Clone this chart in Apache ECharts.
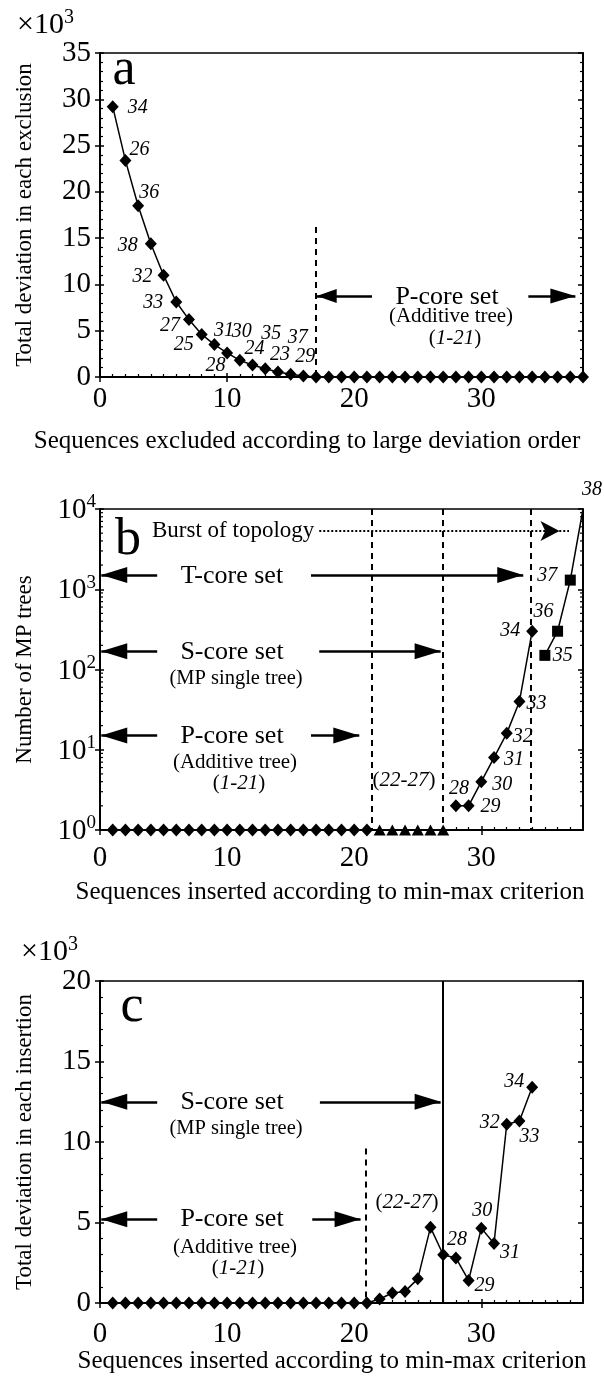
<!DOCTYPE html>
<html><head><meta charset="utf-8">
<script src="https://cdn.jsdelivr.net/npm/echarts@6/dist/echarts.min.js"></script>
<style>html,body{margin:0;padding:0;background:#fff}#c{width:604px;height:1376px}</style>
</head><body><div id="c"></div>
<script>
// ---------- DATA ----------
// Panel a: sequences excluded (1..38) vs total deviation (x10^3)
const aSeq = [1,2,3,4,5,6,7,8,9,10,11,12,13,14,15,16,17,18,19,20,21,22,23,24,25,26,27,28,29,30,31,32,33,34,35,36,37,38];
const aDev = [29.2,23.4,18.5,14.4,11.0,8.1,6.2,4.6,3.5,2.6,1.8,1.3,0.9,0.55,0.3,0.1,0,0,0,0,0,0,0,0,0,0,0,0,0,0,0,0,0,0,0,0,0,0];
const aNames = ['34','26','36','38','32','33','27','25','28','31','30','24','35','23','37','29'];

// Panel b: number of MP trees (log)
const bCoreSeq = [1,2,3,4,5,6,7,8,9,10,11,12,13,14,15,16,17,18,19,20,21];
const bCoreVal = [1,1,1,1,1,1,1,1,1,1,1,1,1,1,1,1,1,1,1,1,1];
const bTriSeq = [22,23,24,25,26,27];
const bTriVal = [1,1,1,1,1,1];
const bDiaSeq = [28,29,30,31,32,33,34];
const bDiaVal = [2,2,4,8,16,40,300];
const bDiaNames = ['28','29','30','31','32','33','34'];
const bSqSeq = [35,36,37,38];
const bSqVal = [150,300,1300,10000];
const bSqNames = ['35','36','37','38'];
const bTickLabels = ['10','10','10','10','10'];

// Panel c: total deviation in each insertion (x10^3)
const cSeq = [1,2,3,4,5,6,7,8,9,10,11,12,13,14,15,16,17,18,19,20,21,22,23,24,25,26,27,28,29,30,31,32,33,34];
const cDev = [0,0,0,0,0,0,0,0,0,0,0,0,0,0,0,0,0,0,0,0,0,0.25,0.62,0.72,1.5,4.7,3.0,2.8,1.4,4.65,3.7,11.1,11.3,13.4];
const cNames = {28:'28',29:'29',30:'30',31:'31',32:'32',33:'33',34:'34'};

// ---------- STYLE / LAYOUT ----------
const FF = '"Liberation Serif","Times New Roman",serif';
const BLACK = '#000';
const grids = [
  {left:100, right:21, top:53, height:324},
  {left:100, right:21, top:509, height:321},
  {left:100, right:21, top:981, height:322}
];
const xLabelMargin = [8, 14, 17];
const aOff = [[25,1],[14,-11],[11,-13],[-23,2],[-21,2],[-23,1],[-19,6],[-18,10],[1,21],[-3,-22],[2,-29],[2,-16],[6,-35],[2,-17],[7,-36],[2,-19]];
const bDiaOff = [[3,-17],[22,1],[21,3],[20,2],[16,3],[17,2],[-22,0]];
const bSqOff = [[18,0],[-14,-19],[-23,-4],[9,-19]];
const cOff = {28:[1,-18],29:[16,5],30:[1,-17],31:[16,9],32:[-17,-2],33:[10,16],34:[-18,-6]};

const numLabel = (txt, off) => ({show:true, formatter:txt, position:'inside', offset:off,
  fontFamily:FF, fontSize:20, fontStyle:'italic', color:BLACK});

function xAxes(g){
  const base = {gridIndex:g, type:'value', min:0, max:38, interval:10, splitLine:{show:false}};
  return [
    Object.assign({}, base, {position:'bottom', axisLine:{onZero:false, lineStyle:{color:BLACK,width:2}},
      axisTick:{show:true, inside:false, length:5, lineStyle:{color:BLACK,width:1.5}},
      axisLabel:{fontFamily:FF, fontSize:29, color:BLACK, margin:xLabelMargin[g], showMaxLabel:false}}),
    Object.assign({}, base, {position:'bottom', offset:0, axisLine:{show:false, onZero:false},
      axisTick:{show:true, inside:true, length:4, lineStyle:{color:BLACK,width:1.5}},
      minorTick:{show:true, splitNumber:10, length:3, lineStyle:{color:BLACK,width:1.2}},
      axisLabel:{show:false}}),
    Object.assign({}, base, {position:'top', axisLine:{onZero:false, lineStyle:{color:BLACK,width:1.5}},
      axisTick:{show:false}, axisLabel:{show:false}})
  ];
}
function yAxesLinear(g, max, name, nameGap){
  const base = {gridIndex:g, type:'value', min:0, max:max, interval:5, splitLine:{show:false}};
  return [
    Object.assign({}, base, {position:'left', axisLine:{onZero:false, lineStyle:{color:BLACK,width:2}},
      axisTick:{show:true, inside:false, length:5, lineStyle:{color:BLACK,width:1.5}},
      axisLabel:{fontFamily:FF, fontSize:29, color:BLACK, margin:9},
      name:name, nameLocation:'middle', nameGap:nameGap, nameTextStyle:{fontFamily:FF, fontSize:23, color:BLACK}}),
    Object.assign({}, base, {position:'left', offset:0, axisLine:{show:false, onZero:false},
      axisTick:{show:true, inside:true, length:4, lineStyle:{color:BLACK,width:1.5}},
      minorTick:{show:true, splitNumber:5, length:3, lineStyle:{color:BLACK,width:1.2}},
      axisLabel:{show:false}}),
    Object.assign({}, base, {position:'right', offset:0, axisLine:{onZero:false, lineStyle:{color:BLACK,width:2}},
      axisTick:{show:true, inside:true, length:5, lineStyle:{color:BLACK,width:1.5}},
      minorTick:{show:true, splitNumber:5, length:3, lineStyle:{color:BLACK,width:1.2}},
      axisLabel:{show:false}})
  ];
}
function yAxesLog(g, name, nameGap){
  const base = {gridIndex:g, type:'log', logBase:10, min:1, max:10000, splitLine:{show:false}};
  return [
    Object.assign({}, base, {position:'left', axisLine:{onZero:false, lineStyle:{color:BLACK,width:2}},
      axisTick:{show:true, inside:false, length:5, lineStyle:{color:BLACK,width:1.5}},
      axisLabel:{margin:4, color:BLACK,
        formatter: v => { const e = Math.round(Math.log10(v)); return '{b|' + bTickLabels[e] + '}{s|' + e + '}'; },
        rich:{b:{fontFamily:FF, fontSize:29, color:BLACK, verticalAlign:'bottom', lineHeight:32},
              s:{fontFamily:FF, fontSize:19, color:BLACK, verticalAlign:'top', lineHeight:19}}},
      name:name, nameLocation:'middle', nameGap:nameGap, nameTextStyle:{fontFamily:FF, fontSize:23, color:BLACK}}),
    Object.assign({}, base, {position:'left', offset:0, axisLine:{show:false, onZero:false},
      axisTick:{show:true, inside:true, length:4, lineStyle:{color:BLACK,width:1.5}},
      axisLabel:{show:false}}),
    Object.assign({}, base, {position:'right', offset:0, axisLine:{onZero:false, lineStyle:{color:BLACK,width:2}},
      axisTick:{show:true, inside:true, length:5, lineStyle:{color:BLACK,width:1.5}},
      axisLabel:{show:false}})
  ];
}

const lineBase = {type:'line', symbol:'diamond', symbolSize:[12,13], itemStyle:{color:BLACK},
  lineStyle:{color:BLACK, width:1.5}, silent:true, animation:false, z:5};

function arrowTo(x1, x2, y, w, h, sym, style){
  const ls = Object.assign({color:BLACK, width:2.5, type:'solid'}, style||{});
  return [{coord:[x1,y], symbol:'none', lineStyle:ls},
          {coord:[x2,y], symbol:sym||'triangle', symbolSize:[w,h], symbolOffset:[0,h/2], lineStyle:ls}];
}
function vline(x, y1, y2, dashed){
  const ls = {color:BLACK, width:2, type: dashed ? [6,5] : 'solid'};
  return [{coord:[x,y1], symbol:'none', lineStyle:ls},{coord:[x,y2], symbol:'none', lineStyle:ls}];
}
const mlBase = {silent:true, symbol:['none','none'], label:{show:false}, emphasis:{disabled:true}, animation:false};

// log minor ticks (2..9 within each decade)
const logMinor = [];
[1,10,100,1000].forEach(d => [2,3,4,5,6,7,8,9].forEach(m => logMinor.push(m*d)));

const series = [];
// Panel a
series.push(Object.assign({}, lineBase, {xAxisIndex:0, yAxisIndex:0,
  data: aSeq.map((x,i) => ({value:[x, aDev[i]], label: i < aNames.length ? numLabel(aNames[i], aOff[i]) : {show:false}})),
  markLine: Object.assign({}, mlBase, {data:[
    vline(17, 16.2, 0, true),
    arrowTo(21.4, 17.05, 8.75, 14, 20),
    arrowTo(33.7, 37.4, 8.75, 15, 25)
  ]})
}));
// Panel b
series.push(Object.assign({}, lineBase, {xAxisIndex:3, yAxisIndex:3,
  data: bCoreSeq.map((x,i) => [x, bCoreVal[i]]),
  markLine: Object.assign({}, mlBase, {data:[
    vline(21.4, 10000, 1, true),
    vline(27, 10000, 1, true),
    vline(33.85, 10000, 1, true),
    arrowTo(17.25, 36.9, 5310, 15, 19, 'arrow', {type:'dotted', width:2}),
    arrowTo(4.5, 0.1, 1510, 16, 26),
    arrowTo(16.6, 33.3, 1510, 16, 26),
    arrowTo(4.5, 0.1, 169, 16, 26),
    arrowTo(17.25, 26.8, 169, 16, 26),
    arrowTo(4.5, 0.1, 15, 16, 26),
    arrowTo(16.6, 20.4, 15, 16, 26)
  ]})
}));
series.push(Object.assign({}, lineBase, {xAxisIndex:3, yAxisIndex:3, symbol:'triangle', symbolSize:[12,11],
  data: bTriSeq.map((x,i) => [x, bTriVal[i]])}));
series.push(Object.assign({}, lineBase, {xAxisIndex:3, yAxisIndex:3,
  data: bDiaSeq.map((x,i) => ({value:[x, bDiaVal[i]], label:numLabel(bDiaNames[i], bDiaOff[i])}))}));
series.push(Object.assign({}, lineBase, {xAxisIndex:3, yAxisIndex:3, symbol:'rect', symbolSize:11, clip:false,
  data: bSqSeq.map((x,i) => ({value:[x, bSqVal[i]], symbolSize: i === bSqSeq.length-1 ? 0 : 11,
    label:numLabel(bSqNames[i], bSqOff[i])}))}));
series.push({type:'custom', xAxisIndex:3, yAxisIndex:3, silent:true, clip:false, animation:false,
  data: logMinor.map(v => [0, v]),
  renderItem: (params, api) => {
    const v = api.value(1);
    const pl = api.coord([0, v]); const pr = api.coord([38, v]);
    return {type:'group', children:[
      {type:'line', shape:{x1:pl[0], y1:pl[1], x2:pl[0]+3, y2:pl[1]}, style:{stroke:BLACK, lineWidth:1.2}},
      {type:'line', shape:{x1:pr[0]-3, y1:pr[1], x2:pr[0], y2:pr[1]}, style:{stroke:BLACK, lineWidth:1.2}}
    ]};
  }
});
// Panel c
series.push(Object.assign({}, lineBase, {xAxisIndex:6, yAxisIndex:6,
  data: cSeq.map((x,i) => ({value:[x, cDev[i]], label: cNames[x] ? numLabel(cNames[x], cOff[x]) : {show:false}})),
  markLine: Object.assign({}, mlBase, {data:[
    vline(27, 20, 0, false),
    vline(20.9, 9.6, 0, true),
    arrowTo(4.5, 0.1, 12.5, 16, 26),
    arrowTo(17.3, 26.8, 12.5, 16, 26),
    arrowTo(4.5, 0.1, 5.2, 16, 26),
    arrowTo(16.7, 20.5, 5.2, 16, 26)
  ]})
}));

// ---------- TEXT ANNOTATIONS ----------
function txt(text, x, y, size, opts){
  return {type:'text', silent:true, z:50, style:Object.assign({text:text, x:x, y:y, fill:BLACK,
    font: (opts && opts.italic ? 'italic ' : '') + size + 'px ' + FF,
    align:'center', verticalAlign:'middle'}, opts && opts.style || {})};
}
const richI = {i:{fontFamily:FF, fontSize:21, fontStyle:'italic', fill:BLACK}, n:{fontFamily:FF, fontSize:21, fill:BLACK}};
function richTxt(text, x, y, rich, align){
  return {type:'text', silent:true, z:50, style:{text:text, x:x, y:y, rich:rich, align:align||'center', verticalAlign:'middle', fill:BLACK}};
}
const richExp = {n:{fontFamily:FF, fontSize:30, fill:BLACK, verticalAlign:'bottom', lineHeight:33},
                 s:{fontFamily:FF, fontSize:20, fill:BLACK, verticalAlign:'top', lineHeight:20}};
const graphic = [
  // panel a
  richTxt('{n|×10}{s|3}', 17, 24, richExp, 'left'),
  txt('a', 124, 70, 52),
  txt('P-core set', 447, 297, 26),
  txt('(Additive tree)', 451, 316, 21),
  richTxt('{n|(}{i|1-21}{n|)}', 455, 338, richI),
  txt('Sequences excluded according to large deviation order', 307, 441, 25),
  // panel b
  txt('b', 128, 540, 52),
  txt('Burst of topology', 152, 531, 23, {style:{align:'left'}}),
  txt('T-core set', 232, 576, 26),
  txt('S-core set', 232, 652, 26),
  txt('(MP single tree)', 236, 679, 20.5),
  txt('P-core set', 232, 736, 26),
  txt('(Additive tree)', 235, 762, 21),
  richTxt('{n|(}{i|1-21}{n|)}', 239, 783, richI),
  richTxt('{n|(}{i|22-27}{n|)}', 404, 780, richI),
  txt('Sequences inserted according to min-max criterion', 330, 892, 25),
  // panel c
  richTxt('{n|×10}{s|3}', 21, 951, richExp, 'left'),
  txt('c', 132, 1007, 52),
  txt('S-core set', 232, 1102, 26),
  txt('(MP single tree)', 236, 1129, 20.5),
  txt('P-core set', 232, 1219, 26),
  txt('(Additive tree)', 235, 1247, 21),
  richTxt('{n|(}{i|1-21}{n|)}', 238, 1268, richI),
  richTxt('{n|(}{i|22-27}{n|)}', 407, 1202, richI),
  txt('Sequences inserted according to min-max criterion', 332, 1361, 25)
];

const chart = echarts.init(document.getElementById('c'), null, {renderer:'canvas'});
chart.setOption({
  animation:false,
  backgroundColor:'#fff',
  grid: grids.map(g => Object.assign({containLabel:false, outerBoundsMode:'none'}, g)),
  xAxis: [].concat(xAxes(0), xAxes(1), xAxes(2)),
  yAxis: [].concat(
    yAxesLinear(0, 35, 'Total deviation in each exclusion', 64),
    yAxesLog(1, 'Number of MP trees', 64),
    yAxesLinear(2, 20, 'Total deviation in each insertion', 64)),
  series: series,
  graphic: graphic
});
</script></body></html>
